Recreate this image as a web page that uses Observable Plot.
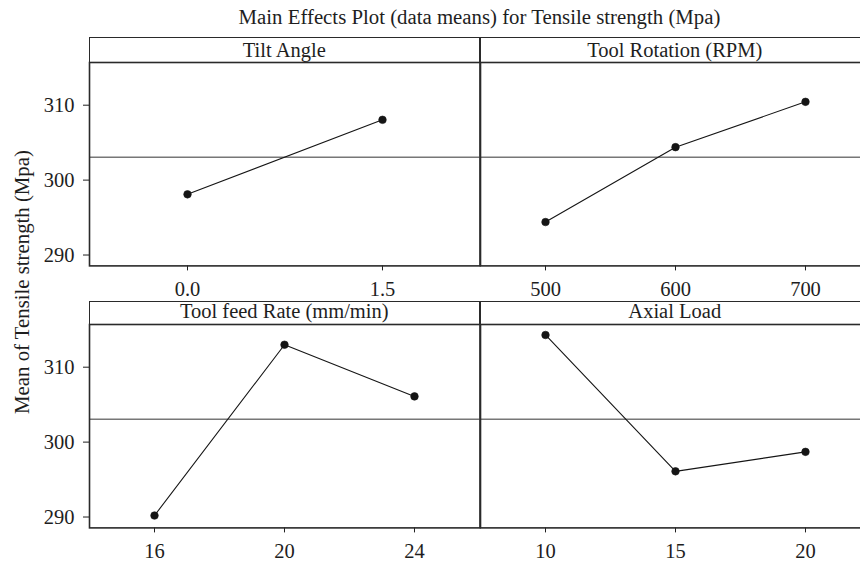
<!DOCTYPE html>
<html>
<head>
<meta charset="utf-8">
<script src="https://cdn.jsdelivr.net/npm/d3@7"></script>
<script src="https://cdn.jsdelivr.net/npm/@observablehq/plot@0.6"></script>
<style>
  html, body { margin: 0; padding: 0; background: #fff; overflow: hidden; }
  #chart { position: relative; width: 860px; height: 564px; overflow: hidden; font-family: "Liberation Serif", "DejaVu Serif", serif; color: #1e1e1e; }
  .abs { position: absolute; }
  .title { left: 89px; width: 781px; top: 4.5px; line-height: 24px; font-size: 20.8px; text-align: center; white-space: nowrap; }
  .ylab { width: 400px; height: 24px; line-height: 24px; font-size: 20.8px; text-align: center; transform: rotate(-90deg); white-space: nowrap; }
  .strip { box-sizing: border-box; border: 1.6px solid #2a2a2a; text-align: center; font-size: 20.5px; white-space: nowrap; }
</style>
</head>
<body>
<div id="chart"></div>
<script>
// ---- data ----
const chartTitle = "Main Effects Plot (data means) for Tensile strength (Mpa)";
const yLabel = "Mean of Tensile strength (Mpa)";
const factors = ["Tilt Angle", "Tool Rotation (RPM)", "Tool feed Rate (mm/min)", "Axial Load"];
const tiltLevels = ["0.0", "1.5"];
const tiltMeans = [298.1, 308.05];
const rpmLevels = ["500", "600", "700"];
const rpmMeans = [294.4, 304.4, 310.45];
const feedLevels = ["16", "20", "24"];
const feedMeans = [290.2, 313.0, 306.1];
const loadLevels = ["10", "15", "20"];
const loadMeans = [314.3, 296.1, 298.7];
const grandMean = 303.05;
const yTicks = [290, 300, 310];
const yDomain = [288.55, 315.7];

const chart = document.getElementById("chart");

function addDiv(cls, text, styles) {
  const d = document.createElement("div");
  d.className = "abs " + cls;
  d.textContent = text;
  Object.assign(d.style, styles || {});
  chart.appendChild(d);
  return d;
}

addDiv("title", chartTitle);
addDiv("ylab", yLabel, {left: (21.5 - 200) + "px", top: (281.5 - 12) + "px"});

const plotW = 390.5;
const plotH = 203.4;

function panel(levels, means, label, showY, left, stripTop, stripH, plotTop, textOffset) {
  const data = levels.map((l, i) => ({level: l, mean: means[i]}));
  const mL = showY ? 89 : 0;
  const svg = Plot.plot({
    width: mL + plotW,
    height: plotH + 40,
    marginLeft: mL, marginRight: 0, marginTop: 0, marginBottom: 40,
    style: {fontFamily: "Liberation Serif, DejaVu Serif, serif", fontSize: "20.5px", color: "#1e1e1e",
            background: "transparent", overflow: "visible", maxWidth: "none"},
    x: {type: "point", domain: levels, padding: 0.5, label: null, tickSize: 5, tickPadding: 11},
    y: {domain: yDomain, ticks: yTicks, label: null, tickSize: 6, tickPadding: 9, axis: showY ? "left" : null},
    marks: [
      Plot.ruleY([grandMean], {stroke: "#777", strokeWidth: 1.3}),
      Plot.line(data, {x: "level", y: "mean", stroke: "#151515", strokeWidth: 1.1}),
      Plot.dot(data, {x: "level", y: "mean", r: 3.8, fill: "#151515", stroke: "#151515", strokeWidth: 0.6}),
      Plot.frame({stroke: "#2a2a2a", strokeWidth: 1.6})
    ]
  });
  svg.style.position = "absolute";
  svg.style.left = (left - mL) + "px";
  svg.style.top = plotTop + "px";
  chart.appendChild(svg);
  const s = addDiv("strip", "", {left: left + "px", top: stripTop + "px", width: plotW + "px", height: stripH + "px"});
  const t = document.createElement("span");
  t.textContent = label;
  Object.assign(t.style, {position: "absolute", left: 0, right: 0, top: textOffset + "px", lineHeight: "20px"});
  s.appendChild(t);
}

panel(tiltLevels, tiltMeans, factors[0], true, 89, 37, 26, 62.3, 1.5);
panel(rpmLevels, rpmMeans, factors[1], false, 89 + plotW, 37, 26, 62.3, 1.5);
panel(feedLevels, feedMeans, factors[2], true, 89, 300.7, 24, 324, -0.5);
panel(loadLevels, loadMeans, factors[3], false, 89 + plotW, 300.7, 24, 324, -0.5);
</script>
</body>
</html>
